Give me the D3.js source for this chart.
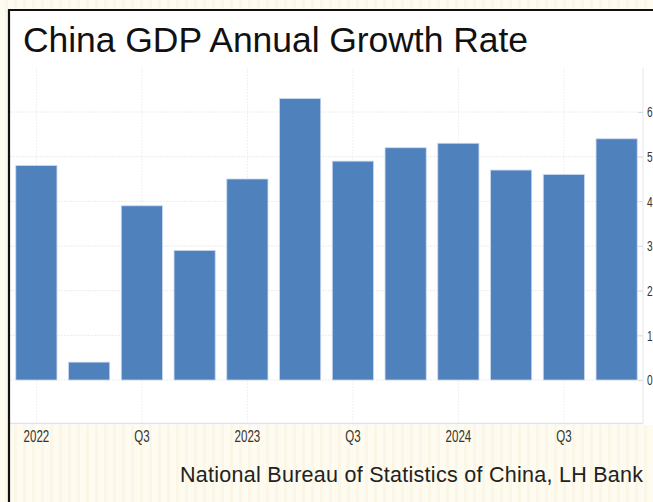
<!DOCTYPE html>
<html>
<head>
<meta charset="utf-8">
<script src="https://cdn.jsdelivr.net/npm/d3@7"></script>
<style>
  body { margin: 0; background: #fff; }
  svg { display: block; }
  .tick text { font-family: "Liberation Sans", Arial, sans-serif; fill: #333; }
</style>
</head>
<body>
<script>
// china gdp yoy, quarterly
let quarters = ["2022Q1", "2022Q2", "2022Q3", "2022Q4",
  "2023Q1", "2023Q2", "2023Q3", "2023Q4",
  "2024Q1", "2024Q2", "2024Q3", "2024Q4"]
let growth = [4.8, 0.4, 3.9, 2.9, 4.5, 6.3, 4.9, 5.2, 5.3, 4.7, 4.6, 5.4]
let xTicks = ["2022Q1", "2022Q3", "2023Q1", "2023Q3", "2024Q1", "2024Q3"]
let xTickLabels = ["2022", "Q3", "2023", "Q3", "2024", "Q3"]
let yTicks = [0, 1, 2, 3, 4, 5, 6]

let width = 653
let height = 502
let squeeze = 0.68  // narrow look of the tick font

let svg = d3.select('body')
  .append('svg')
  .attr('width', width)
  .attr('height', height)

// cream textured backdrop
let defs = svg.append('defs')
let stripes = defs.append('pattern')
  .attr('id', 'stripes')
  .attr('width', 9)
  .attr('height', 9)
  .attr('patternUnits', 'userSpaceOnUse')
stripes.append('rect').attr('width', 9).attr('height', 9).attr('fill', '#fefbf1')
stripes.append('rect').attr('x', 5).attr('width', 3).attr('height', 9).attr('fill', '#fcf6e6')

svg.append('rect')
  .attr('width', width)
  .attr('height', height)
  .attr('fill', 'url(#stripes)')

svg.append('rect')
  .attr('x', 10).attr('y', 10)
  .attr('width', width - 10).attr('height', 415)
  .attr('fill', '#fff')

let x = d3.scaleBand()
  .domain(quarters)
  .range([10, 643])
  .paddingInner(0.22)
  .paddingOuter(0.11)

let y = d3.scaleLinear()
  .domain([0, 6])
  .range([380, 112])

// grid
let grid = svg.append('g')
grid.selectAll('line.h')
  .data(yTicks)
  .enter()
  .append('line')
  .attr('x1', 10).attr('x2', 643)
  .attr('y1', d => y(d)).attr('y2', d => y(d))
  .attr('stroke', '#ececec')
  .attr('stroke-dasharray', '2,1')

grid.selectAll('line.v')
  .data(xTicks)
  .enter()
  .append('line')
  .attr('x1', d => x(d) + x.bandwidth() / 2)
  .attr('x2', d => x(d) + x.bandwidth() / 2)
  .attr('y1', 68).attr('y2', 423)
  .attr('stroke', '#f0f0f0')
  .attr('stroke-dasharray', '2,1')

svg.selectAll('rect.bar')
  .data(growth)
  .enter()
  .append('rect')
  .attr('class', 'bar')
  .attr('x', (d, i) => x(quarters[i]))
  .attr('y', d => y(d))
  .attr('width', x.bandwidth())
  .attr('height', d => y(0) - y(d))
  .attr('fill', '#4f81bd')
  .attr('stroke', '#c9d8ee')
  .attr('stroke-width', 0.8)

// right value axis
let yAxis = svg.append('g')
  .attr('transform', 'translate(643,0)')
  .call(d3.axisRight(y).tickValues(yTicks).tickFormat(d3.format('d')).tickSize(-5).tickPadding(3))
yAxis.select('.domain').remove()
yAxis.selectAll('.tick line').attr('stroke', '#ddd')
yAxis.selectAll('.tick text')
  .attr('font-size', 15)
  .attr('x', 4 / squeeze)
  .attr('transform', `scale(${squeeze},1)`)
svg.append('line')
  .attr('x1', 643).attr('x2', 643)
  .attr('y1', 68).attr('y2', 423)
  .attr('stroke', '#e6e6e6')

// bottom axis
let xAxis = svg.append('g')
  .attr('transform', 'translate(0,423)')
  .call(d3.axisBottom(x).tickValues(xTicks).tickFormat((d, i) => xTickLabels[i]).tickSize(0).tickPadding(7))
xAxis.select('.domain').remove()
xAxis.selectAll('.tick text')
  .attr('font-size', 17)
  .attr('transform', `scale(${squeeze},1)`)
svg.append('line')
  .attr('x1', 10).attr('x2', 643)
  .attr('y1', 423.5).attr('y2', 423.5)
  .attr('stroke', '#e2e2e2')
  .attr('stroke-width', 1.5)

// frame
svg.append('path')
  .attr('d', 'M9,502V10H653')
  .attr('fill', 'none')
  .attr('stroke', '#111')
  .attr('stroke-width', 2.2)

svg.append('text')
  .attr('x', 23)
  .attr('y', 52)
  .attr('font-family', 'Liberation Sans, Arial, sans-serif')
  .attr('font-size', 35.5)
  .attr('textLength', 505)
  .attr('lengthAdjust', 'spacing')
  .attr('fill', '#111')
  .text('China GDP Annual Growth Rate')

svg.append('text')
  .attr('x', 180)
  .attr('y', 482)
  .attr('font-family', 'Liberation Sans, Arial, sans-serif')
  .attr('font-size', 21.5)
  .attr('textLength', 463)
  .attr('lengthAdjust', 'spacing')
  .attr('fill', '#222')
  .text('National Bureau of Statistics of China, LH Bank')
</script>
</body>
</html>
